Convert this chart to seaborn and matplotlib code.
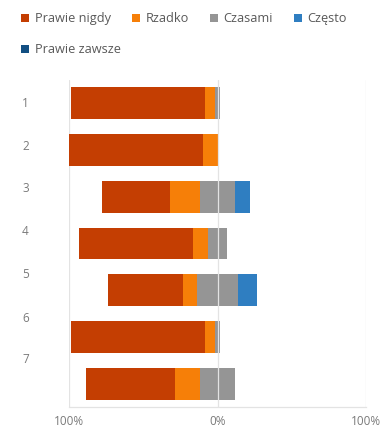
import seaborn as sns
import matplotlib.pyplot as plt
from matplotlib.lines import Line2D

# Question numbers and answer shares (%)
categories = ["1", "2", "3", "4", "5", "6", "7"]
prawie_nigdy = [90, 90, 46, 77, 50, 90, 60]
rzadko = [7, 10, 20, 10, 10, 7, 17]
czasami = [3, 0, 24, 13, 27, 3, 23]
czesto = [0, 0, 10, 0, 13, 0, 0]
prawie_zawsze = [0, 0, 0, 0, 0, 0, 0]

series_names = ["Prawie nigdy", "Rzadko", "Czasami", "Często", "Prawie zawsze"]
colors = ["#C43E02", "#F67F08", "#959595", "#2F7EC1", "#124F82"]
x_ticks = [-100, 0, 100]
x_tick_labels = ["100%", "0%", "100%"]

sns.set_style("white")
plt.rcParams["font.family"] = ["Open Sans", "DejaVu Sans"]

fig = plt.figure(figsize=(3.84, 4.43), dpi=100)
ax = fig.add_axes([69 / 384, 36 / 443, 297 / 384, 327 / 443])

# Diverging stack: "Czasami" is split around 0, negative answers go left
half_mid = [c / 2 for c in czasami]
neg_outer = [-(a + b + h) for a, b, h in zip(prawie_nigdy, rzadko, half_mid)]
neg_mid = [-(b + h) for b, h in zip(rzadko, half_mid)]
neg_inner = [-h for h in half_mid]
pos_outer = [h + c + z for h, c, z in zip(half_mid, czesto, prawie_zawsze)]
pos_mid = [h + c for h, c in zip(half_mid, czesto)]
pos_inner = half_mid

layers = [
    (neg_outer, colors[0]),
    (neg_mid, colors[1]),
    (neg_inner, colors[2]),
    (pos_outer, colors[4]),
    (pos_mid, colors[3]),
    (pos_inner, colors[2]),
]
for values, col in layers:
    sns.barplot(x=values, y=categories, orient="h", color=col, width=0.68,
                errorbar=None, linewidth=0, saturation=1, ax=ax)

# light grid lines, the one at 0 runs over the bars
for xv in x_ticks:
    ax.axvline(xv, color="#E3E3E3", lw=0.9, zorder=0.5 if xv else 3)

ax.set_xlim(-100, 100)
ax.set_ylim(6.5, -0.5)
ax.set_xticks(x_ticks, x_tick_labels)
# category labels sit on their own evenly spaced axis (as in the source)
label_pos = [-0.02, 0.90, 1.79, 2.71, 3.63, 4.57, 5.45]
ax.set_yticks(label_pos, categories)
ax.set_xlabel("")
ax.set_ylabel("")
ax.tick_params(axis="x", length=0, pad=6, labelsize=8.5, labelcolor="#7A7A7A")
ax.tick_params(axis="y", length=0, pad=29, labelsize=8.5, labelcolor="#7A7A7A")

sns.despine(ax=ax, left=True, top=True, right=True)
ax.spines["bottom"].set_color("#E3E3E3")
ax.spines["bottom"].set_linewidth(0.9)

# legend: four entries on the first row, the last one wraps to a second row
handles = [Line2D([], [], marker="s", linestyle="none", markersize=5.8,
                  markerfacecolor=c, markeredgewidth=0) for c in colors]
legend_kw = dict(loc="upper left", frameon=False, fontsize=9.2,
                 labelcolor="#595959", handlelength=0.7, handletextpad=0.4,
                 columnspacing=1.6, borderaxespad=0, borderpad=0)
fig.legend(handles[:4], series_names[:4], ncol=4,
           bbox_to_anchor=(21 / 384, 1 - 12 / 443), **legend_kw)
fig.legend(handles[4:], series_names[4:], ncol=1,
           bbox_to_anchor=(21 / 384, 1 - 43 / 443), **legend_kw)

fig.savefig("out.png", dpi=100)
